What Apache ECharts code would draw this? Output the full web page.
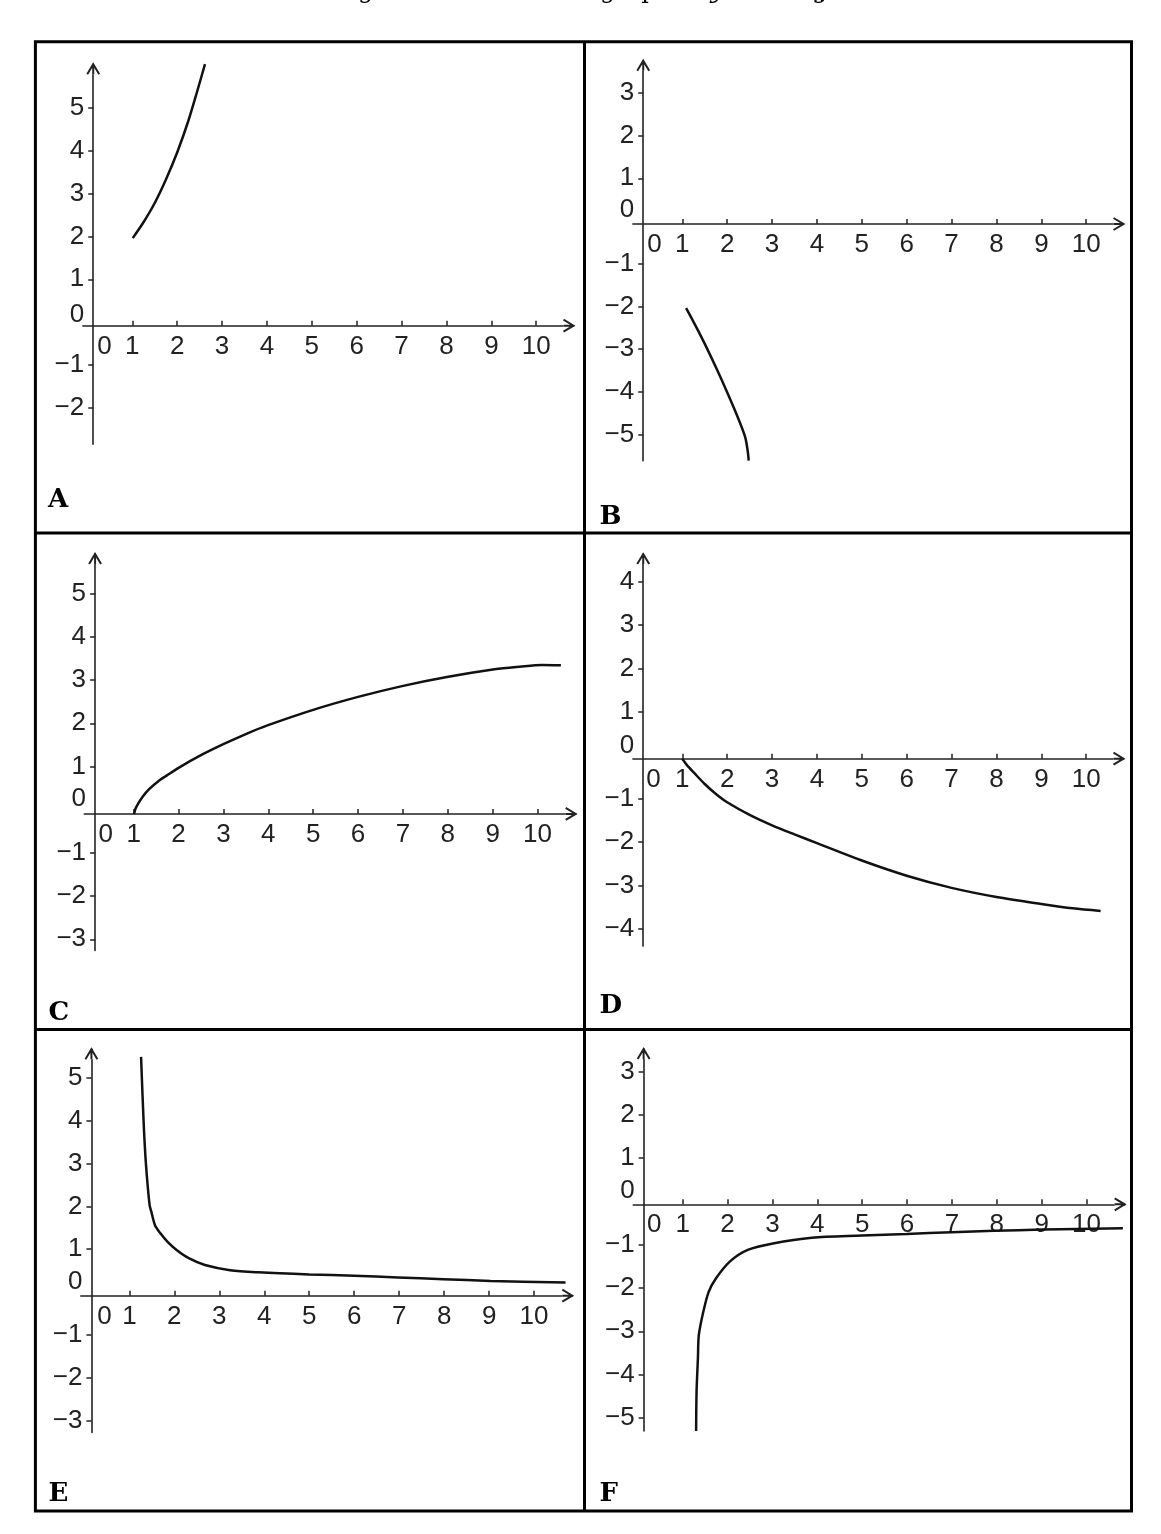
<!DOCTYPE html>
<html>
<head>
<meta charset="utf-8">
<script src="https://cdn.jsdelivr.net/npm/echarts@6/dist/echarts.min.js"></script>
<style>
html,body{margin:0;padding:0;background:#fff;}
#chart{width:1161px;height:1534px;}
</style>
</head>
<body>
<div id="chart"></div>
<script>
// ---------- data ----------
const X_TICKS = [1, 2, 3, 4, 5, 6, 7, 8, 9, 10];
const X_LABELS = [0, 1, 2, 3, 4, 5, 6, 7, 8, 9, 10];
const Y_TICKS_A = [-2, -1, 1, 2, 3, 4, 5];
const Y_TICKS_B = [-5, -4, -3, -2, -1, 1, 2, 3];
const Y_TICKS_C = [-3, -2, -1, 1, 2, 3, 4, 5];
const Y_TICKS_D = [-4, -3, -2, -1, 1, 2, 3, 4];
const Y_TICKS_E = [-3, -2, -1, 1, 2, 3, 4, 5];
const Y_TICKS_F = [-5, -4, -3, -2, -1, 1, 2, 3];
const PANEL_LETTERS = ['A', 'B', 'C', 'D', 'E', 'F'];

const curveA = [[1.01,1.96],[1.25,2.33],[1.5,2.78],[1.75,3.33],[2.0,3.96],[2.25,4.7],[2.45,5.4],[2.62,6.02]];
const curveB = [[1.085,-2.04],[1.2,-2.26],[1.35,-2.56],[1.55,-2.98],[1.77,-3.47],[1.98,-3.96],[2.2,-4.5],[2.4,-5.05],[2.46,-5.4],[2.48,-5.61]];
const curveC = [[1.01,-0.10],[1.04,0.02],[1.1,0.14],[1.2,0.30],[1.35,0.48],[1.55,0.66],[1.75,0.80],[2.02,0.98],[2.5,1.26],[3.01,1.52],[3.5,1.75],[3.98,1.95],[5.0,2.31],[6.0,2.61],[6.98,2.86],[7.98,3.07],[9.04,3.25],[9.6,3.31],[10.1,3.35],[10.52,3.34]];
const curveD = [[1.0,-0.08],[1.1,-0.22],[1.26,-0.40],[1.5,-0.66],[1.75,-0.89],[2.0,-1.08],[2.5,-1.37],[3.0,-1.61],[3.5,-1.82],[4.0,-2.02],[5.0,-2.42],[6.0,-2.77],[7.0,-3.05],[8.0,-3.26],[9.0,-3.42],[9.7,-3.52],[10.32,-3.58]];
const curveE = [[1.26,5.49],[1.32,3.90],[1.37,2.97],[1.45,2.03],[1.49,1.87],[1.57,1.56],[1.69,1.37],[1.85,1.17],[2.05,0.98],[2.32,0.79],[2.68,0.63],[3.24,0.51],[3.87,0.46],[5.0,0.41],[6.0,0.38],[6.97,0.34],[7.98,0.30],[9.03,0.26],[10.7,0.22]];
const curveF = [[1.30,-5.30],[1.31,-4.39],[1.34,-3.62],[1.36,-3.09],[1.46,-2.55],[1.58,-2.09],[1.74,-1.78],[2.05,-1.39],[2.45,-1.12],[3.01,-0.97],[3.88,-0.84],[5.0,-0.79],[5.99,-0.75],[6.99,-0.71],[7.94,-0.68],[9.02,-0.65],[10.81,-0.62]];

// axis ranges (data units) and the point where the two axes cross
const RANGES = {
  A: {x: [-0.1, 10.83], y: [-2.85, 6.02], cross: [0.13, -0.084]},
  B: {x: [-0.1, 10.83], y: [-5.61, 3.75], cross: [0.13, -0.07]},
  C: {x: [-0.1, 10.85], y: [-3.26, 5.92], cross: [0.14, -0.10]},
  D: {x: [-0.1, 10.83], y: [-4.39, 4.63], cross: [0.13, -0.078]},
  E: {x: [-0.08, 10.85], y: [-3.28, 5.67], cross: [0.156, -0.086]},
  F: {x: [-0.1, 10.85], y: [-5.30, 3.52], cross: [0.13, -0.067]}
};

// ---------- layout / style ----------
const LAYOUT = {
  A: {grid: [82.9, 64.2, 490.6, 380.0], letter: [48, 500], zeroX: 17, zeroY: 7},
  B: {grid: [632.9, 60.8, 490.6, 399.9], letter: [599.6, 517.5], zeroX: 17, zeroY: 11},
  C: {grid: [84.3, 553.9, 491.4, 396.6], letter: [48.6, 1013], zeroX: 17, zeroY: 11},
  D: {grid: [632.9, 554.1, 490.6, 392.0], letter: [599.6, 1006.7], zeroX: 16, zeroY: 9},
  E: {grid: [80.8, 1049.2, 491.5, 383.3], letter: [48.6, 1494.7], zeroX: 20, zeroY: 10},
  F: {grid: [633.3, 1049.0, 491.4, 381.9], letter: [599.6, 1494.3], zeroX: 16.5, zeroY: 11}
};
const CURVES = {A: curveA, B: curveB, C: curveC, D: curveD, E: curveE, F: curveF};
const YTICKS = {A: Y_TICKS_A, B: Y_TICKS_B, C: Y_TICKS_C, D: Y_TICKS_D, E: Y_TICKS_E, F: Y_TICKS_F};

const INK = '#222';
const FONT = '"Liberation Sans", Arial, sans-serif';
const FS = 26;
const ARROW = 'emptyPath://M0,10 L6,0 L12,10 M6,0 L6,10';

const option = {
  animation: false,
  backgroundColor: '#fff',
  grid: [], xAxis: [], yAxis: [], series: [], graphic: []
};

PANEL_LETTERS.forEach(function (L, i) {
  const r = RANGES[L], lay = LAYOUT[L];
  const g = lay.grid;
  option.grid.push({left: g[0], top: g[1], width: g[2], height: g[3], containLabel: false});
  // move each axis line from the grid edge to where the axes cross
  const xAxisShift = -(r.cross[1] - r.y[0]) / (r.y[1] - r.y[0]) * g[3];
  const yAxisShift = -(r.cross[0] - r.x[0]) / (r.x[1] - r.x[0]) * g[2];
  const yLabels = YTICKS[L].concat([0]);
  option.xAxis.push({
    gridIndex: i, type: 'value', min: r.x[0], max: r.x[1], position: 'bottom', offset: xAxisShift,
    axisLine: {show: true, onZero: false,
      symbol: ['none', ARROW], symbolSize: [12, 10], symbolOffset: [0, -5],
      lineStyle: {color: INK, width: 1.6}},
    axisTick: {show: true, inside: true, length: 5, customValues: X_TICKS, lineStyle: {color: INK, width: 1.5}},
    axisLabel: {show: true, customValues: X_LABELS, margin: 8, color: INK, fontSize: FS, fontFamily: FONT,
      formatter: function (v) { return v === 0 ? '{z|0}' : String(v); },
      rich: {z: {fontSize: FS, fontFamily: FONT, color: INK, padding: [0, 0, 0, 2 * lay.zeroX]}}},
    splitLine: {show: false}
  });
  option.yAxis.push({
    gridIndex: i, type: 'value', min: r.y[0], max: r.y[1], position: 'left', offset: yAxisShift,
    axisLine: {show: true, onZero: false,
      symbol: ['none', ARROW], symbolSize: [12, 10], symbolOffset: [0, -5],
      lineStyle: {color: INK, width: 1.6}},
    axisTick: {show: true, inside: false, length: 5, customValues: YTICKS[L], lineStyle: {color: INK, width: 1.5}},
    axisLabel: {show: true, customValues: yLabels, margin: 9, color: INK, fontSize: FS, fontFamily: FONT,
      formatter: function (v) { return v === 0 ? '{z|0}' : (v < 0 ? '\u2212' + (-v) : String(v)); },
      rich: {z: {fontSize: FS, fontFamily: FONT, color: INK, padding: [0, 0, 2 * lay.zeroY, 0]}}},
    splitLine: {show: false}
  });
  option.series.push({
    type: 'line', xAxisIndex: i, yAxisIndex: i, data: CURVES[L],
    smooth: 0.3, showSymbol: false, symbol: 'none', clip: false, silent: true,
    lineStyle: {color: '#111', width: 2.5}
  });
  option.graphic.push({
    type: 'text', x: lay.letter[0], y: lay.letter[1], silent: true,
    style: {text: L, fill: '#000', fontSize: 26, fontWeight: 'bold', fontFamily: '"DejaVu Serif", serif',
      align: 'left', textAlign: 'left', verticalAlign: 'middle', textVerticalAlign: 'middle'}
  });
});

// table frame
const FRAME = {x0: 35.4, y0: 41.7, x1: 1131.5, y1: 1511, xm: 584.5, r1: 533, r2: 1029.5};
option.graphic.push(
  {type: 'rect', silent: true, shape: {x: FRAME.x0, y: FRAME.y0, width: FRAME.x1 - FRAME.x0, height: FRAME.y1 - FRAME.y0},
    style: {fill: 'none', stroke: '#000', lineWidth: 3}},
  {type: 'line', silent: true, shape: {x1: FRAME.xm, y1: FRAME.y0, x2: FRAME.xm, y2: FRAME.y1}, style: {stroke: '#000', lineWidth: 3}},
  {type: 'line', silent: true, shape: {x1: FRAME.x0, y1: FRAME.r1, x2: FRAME.x1, y2: FRAME.r1}, style: {stroke: '#000', lineWidth: 3}},
  {type: 'line', silent: true, shape: {x1: FRAME.x0, y1: FRAME.r2, x2: FRAME.x1, y2: FRAME.r2}, style: {stroke: '#000', lineWidth: 3}}
);

// question line, cut off by the top edge of the picture
const TITLE_FONT = '"DejaVu Serif", serif';
option.graphic.push(
  {type: 'text', x: 448, y: -8, silent: true,
    style: {text: 'Which of the following is the', fill: '#000', fontSize: 24, fontFamily: TITLE_FONT,
      align: 'right', textAlign: 'right', verticalAlign: 'middle', textVerticalAlign: 'middle'}},
  {type: 'text', x: 600, y: -8, silent: true,
    style: {text: 'graph of {i|y}   =   log', fill: '#000', fontSize: 24, fontFamily: TITLE_FONT,
      rich: {i: {fontSize: 24, fontFamily: TITLE_FONT, fontStyle: 'italic', fill: '#000'}},
      align: 'left', textAlign: 'left', verticalAlign: 'middle', textVerticalAlign: 'middle'}},
  {type: 'text', x: 815, y: -3, silent: true,
    style: {text: 'x', fill: '#000', fontSize: 17, fontStyle: 'italic', fontFamily: TITLE_FONT,
      align: 'left', textAlign: 'left', verticalAlign: 'middle', textVerticalAlign: 'middle'}},
  {type: 'text', x: 830, y: -8, silent: true,
    style: {text: ' 2?', fill: '#000', fontSize: 24, fontFamily: TITLE_FONT,
      align: 'left', textAlign: 'left', verticalAlign: 'middle', textVerticalAlign: 'middle'}}
);

const chart = echarts.init(document.getElementById('chart'), null, {renderer: 'canvas'});
chart.setOption(option);
</script>
</body>
</html>
